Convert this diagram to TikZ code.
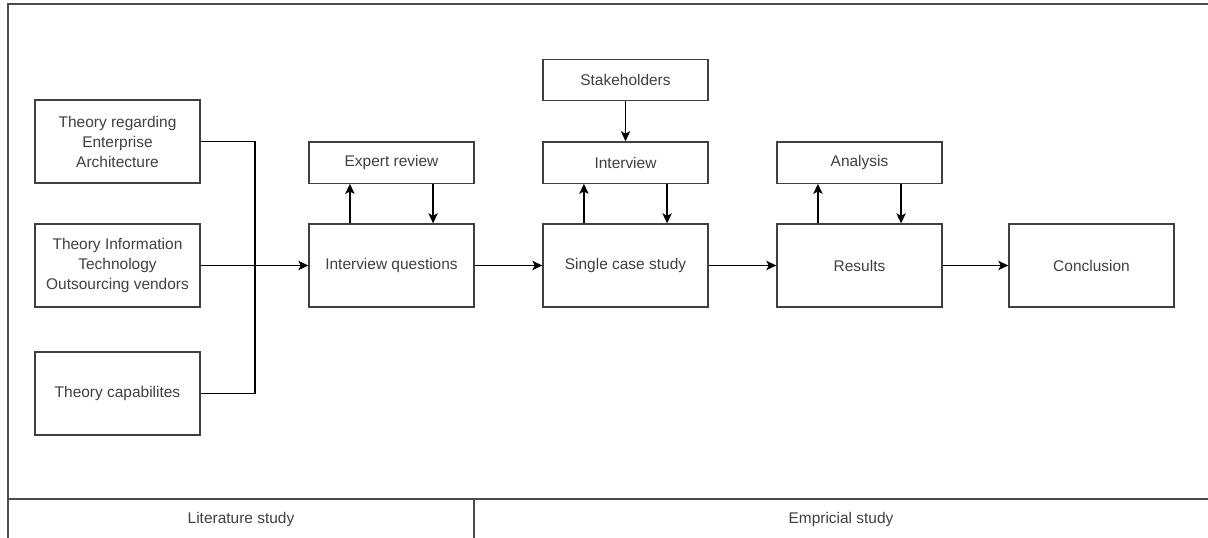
\documentclass[tikz,border=0pt]{standalone}
\usepackage{fontspec}
\setmainfont{Liberation Sans}
\usetikzlibrary{arrows.meta,calc}
\begin{document}
\begin{tikzpicture}[x=0.75pt,y=-0.75pt,
  box/.style={draw=black!75,line width=1pt,fill=white,minimum width=123.75pt,inner sep=2pt,align=center,text=black!75,font=\fontsize{11.6pt}{15pt}\selectfont},
  bigbox/.style={box,minimum height=62.25pt},
  smallbox/.style={box,minimum height=31pt},
  conn/.style={draw=black,line width=1pt},
  arr/.style={conn,-{Stealth[length=7.5pt,width=7pt,inset=1.8pt]}},
  frame/.style={draw=black!70,line width=1pt},
  lbl/.style={text=black!75,font=\fontsize{11.6pt}{15pt}\selectfont}]
\useasboundingbox (0,0) rectangle (1208,537);
% frame
\draw[frame] (8,540) -- (8,4) -- (1210,4);
\draw[frame] (8,499) -- (1210,499);
\draw[frame] (474,499) -- (474,540);
\node[lbl] (lit) at (241,519) {Literature study};
\node[lbl] (emp) at (841,519) {Empricial study};
% boxes
\node[bigbox] (t1) at (117.5,141.5) {Theory regarding\\Enterprise\\Architecture};
\node[bigbox] (t2) at (117.5,265.5) {Theory Information\\Technology\\Outsourcing vendors};
\node[bigbox] (t3) at (117.5,393.5) {Theory capabilites};
\node[bigbox] (iq) at (391.5,265.5) {Interview questions};
\node[smallbox] (er) at (391.5,162.5) {Expert review};
\node[smallbox] (sh) at (625.5,80) {Stakeholders};
\node[smallbox] (iv) at (625.5,162.5) {Interview};
\node[bigbox] (scs) at (625.5,265.5) {Single case study};
\node[smallbox] (an) at (859.5,162.5) {Analysis};
\node[bigbox] (res) at (859.5,265.5) {Results};
\node[bigbox] (con) at (1091.5,265.5) {Conclusion};
% connectors
\coordinate (jt) at (255,141.5);
\coordinate (jb) at (255,393.5);
\draw[conn] (t1.east) -- (jt) -- (jb) -- (t3.east);
\draw[arr] (t2.east) -- (iq.west);
\draw[arr] (iq.east) -- (scs.west);
\draw[arr] (scs.east) -- (res.west);
\draw[arr] (res.east) -- (con.west);
\draw[arr] (sh.south) -- (iv.north);
\foreach \a/\b in {iq/er,scs/iv,res/an}{
  \draw[arr] ($(\a.north west)!0.25!(\a.north east)$) -- ($(\b.south west)!0.25!(\b.south east)$);
  \draw[arr] ($(\b.south west)!0.75!(\b.south east)$) -- ($(\a.north west)!0.75!(\a.north east)$);
}
\end{tikzpicture}
\end{document}
